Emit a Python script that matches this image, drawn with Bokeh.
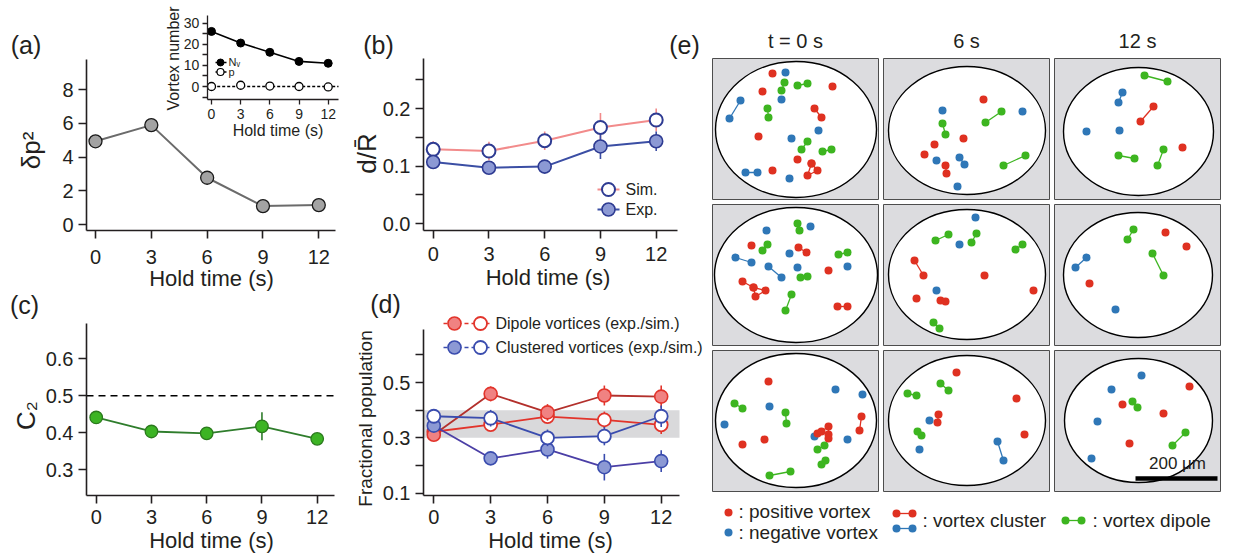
import math
from bokeh.plotting import figure
from bokeh.models import Range1d, LinearAxis, FixedTicker, PrintfTickFormatter
from bokeh.core.properties import value
from bokeh.embed import file_html
from bokeh.resources import INLINE

# ---------------------------------------------------------------- data
hold_time = [0, 3, 6, 9, 12]
tick_hold = [0, 3, 6, 9, 12]

# (a) main + inset
dp2 = [4.93, 5.89, 2.77, 1.09, 1.15]
vortex_number = [26.1, 20.6, 16.2, 11.9, 11.0]
polarization = [0.0, 0.6, 0.2, 0.0, -0.2]

# (b) d / R-bar
dR_sim = [0.129, 0.126, 0.144, 0.167, 0.180]
dR_sim_err = [0.014, 0.016, 0.016, 0.025, 0.020]
dR_exp = [0.107, 0.097, 0.099, 0.134, 0.143]
dR_exp_err = [0.008, 0.006, 0.008, 0.022, 0.017]

# (c) C2
c2 = [0.441, 0.403, 0.398, 0.417, 0.383]
c2_err = [0.005, 0.005, 0.005, 0.038, 0.005]

# (d) fractional population
dip_exp = [0.311, 0.459, 0.392, 0.453, 0.449]
dip_exp_err = [0.012, 0.027, 0.030, 0.036, 0.040]
dip_sim = [0.322, 0.348, 0.377, 0.365, 0.347]
dip_sim_err = [0.010, 0.020, 0.025, 0.030, 0.033]
clu_exp = [0.344, 0.226, 0.258, 0.194, 0.216]
clu_exp_err = [0.012, 0.015, 0.033, 0.048, 0.039]
clu_sim = [0.378, 0.371, 0.300, 0.306, 0.378]
clu_sim_err = [0.012, 0.030, 0.030, 0.033, 0.039]

# (e) vortex positions, image pixels from each frame's top-left corner (y down)
col_titles = ["t = 0 s", "6 s", "12 s"]
run1_t0 = {
    "blue": [[(73, 14)], [(69, 41)], [(28, 42), (17, 60)], [(106, 72)], [(79, 80)],
             [(33, 114), (45, 114)], [(77, 120)]],
    "green": [[(72, 24), (69, 32)], [(85, 27), (95, 25)], [(55, 50), (56, 59)],
              [(95, 83), (89, 91)], [(110, 93), (119, 91)]],
    "red": [[(60, 15)], [(50, 33)], [(120, 28)], [(102, 50), (109, 59)], [(46, 78)], [(85, 101)],
            [(99, 105), (105, 112), (95, 117), (99, 105)], [(60, 112)]],
}
run1_t6 = {
    "blue": [[(59, 52)], [(139, 53)], [(53, 102)], [(76, 99), (81, 106)], [(74, 128)]],
    "green": [[(59, 65), (62, 76)], [(102, 64), (118, 53)], [(120, 107), (142, 97)]],
    "red": [[(100, 41)], [(80, 80)], [(51, 86)], [(41, 96)], [(62, 107), (63, 115)]],
}
run1_t12 = {
    "blue": [[(68, 34), (64, 44)], [(32, 73)], [(65, 72)]],
    "green": [[(90, 17), (113, 23)], [(64, 97), (80, 100)], [(109, 91), (103, 107)]],
    "red": [[(99, 48), (86, 63)], [(128, 89)]],
}
run2_t0 = {
    "blue": [[(54, 26)], [(98, 22)], [(23, 53), (39, 58)], [(77, 49)], [(56, 62), (69, 73)],
             [(85, 63)], [(135, 62)]],
    "green": [[(85, 19), (87, 26)], [(55, 40), (50, 46)], [(126, 50), (135, 48)],
              [(88, 73), (95, 72)], [(79, 90), (73, 106)]],
    "red": [[(39, 41)], [(86, 43), (94, 48)], [(30, 77), (41, 83), (53, 86), (43, 92), (41, 83)],
            [(116, 66)], [(125, 102), (135, 102)]],
}
run2_t6 = {
    "blue": [[(92, 13)], [(76, 40)], [(53, 86)]],
    "green": [[(52, 36), (65, 30)], [(93, 29), (88, 38)], [(132, 45), (139, 40)], [(50, 118), (56, 124)]],
    "red": [[(31, 56), (40, 71)], [(101, 71)], [(150, 86)], [(33, 94)], [(57, 96), (62, 97)]],
}
run2_t12 = {
    "blue": [[(32, 53), (21, 63)], [(61, 105)]],
    "green": [[(79, 25), (73, 35)], [(98, 49), (109, 71)]],
    "red": [[(111, 28)], [(132, 42)], [(35, 79)]],
}
run3_t0 = {
    "blue": [[(123, 39)], [(150, 44)], [(57, 56)], [(12, 74)], [(102, 86)], [(135, 89)]],
    "green": [[(22, 53), (30, 58)], [(73, 62), (74, 73)], [(105, 99), (112, 95)],
              [(109, 114), (113, 110)], [(57, 125), (78, 121)]],
    "red": [[(56, 31)], [(30, 94)], [(52, 89)], [(105, 83), (109, 81), (116, 76), (116, 84), (116, 88)],
            [(149, 66), (147, 80)]],
}
run3_t6 = {
    "blue": [[(46, 70)], [(36, 99)], [(114, 91), (120, 110)]],
    "green": [[(57, 33), (65, 40)], [(24, 43), (33, 45)], [(34, 81), (38, 85)]],
    "red": [[(73, 22)], [(133, 48)], [(141, 84)], [(55, 64), (54, 72)]],
}
run3_t12 = {
    "blue": [[(87, 25)], [(57, 39)], [(43, 71)], [(37, 108)]],
    "green": [[(78, 51), (83, 57)], [(131, 82), (118, 95)]],
    "red": [[(135, 36)], [(68, 54)], [(109, 63)], [(75, 93)]],
}
frames = [[run1_t0, run1_t6, run1_t12], [run2_t0, run2_t6, run2_t12], [run3_t0, run3_t6, run3_t12]]
cloud_cx = [[83.5, 83.5, 84], [83.5, 83.5, 83.5], [83.5, 83.5, 84]]
cloud_cy = [[71, 72, 73], [70.5, 70, 70.5], [70, 70, 70]]
cloud_w = [[161, 157, 150], [163, 157, 149], [161, 157, 148]]
cloud_h = [[136, 128, 128], [135, 130, 125], [134, 130, 124]]
scale_bar_um = 200
px_per_um = 0.41
legend_e = [": positive vortex", ": negative vortex", ": vortex cluster", ": vortex dipole"]

# ---------------------------------------------------------------- canvas
W, H, OFF = 1235, 554, 0
FONT = "Liberation Sans"
INK = "#231f20"
RED, BLUE, GREEN = "#df3121", "#2f77b7", "#3db520"
VCOL = {"red": RED, "blue": BLUE, "green": GREEN}

p = figure(width=W, height=H, x_range=Range1d(OFF, OFF + W), y_range=Range1d(OFF + H, OFF),
           output_backend="svg", toolbar_location=None, min_border=0,
           x_axis_type=None, y_axis_type=None, outline_line_color=None,
           background_fill_color="white", border_fill_color="white")


def xr(v1, p1, v2, p2):
    k = (p2 - p1) / (v2 - v1)
    s = v1 - (p1 - OFF) / k
    return Range1d(start=s, end=s + W / k)


def yr(v1, p1, v2, p2):
    k = (p1 - p2) / (v2 - v1)
    e = v1 + (p1 - OFF) / k
    return Range1d(start=e - H / k, end=e)


p.extra_x_ranges = {
    "ax": xr(0, 95, 12, 318.3), "bx": xr(0, 432.7, 12, 655.7),
    "cx": xr(0, 95.7, 12, 316.7), "dx": xr(0, 433.3, 12, 660.7),
    "ix": xr(0, 211, 12, 327.7), "ex": xr(0, 712, 1, 713),
}
p.extra_y_ranges = {
    "ay": yr(0, 224, 8, 89), "by": yr(0, 223, 0.2, 108),
    "cy": yr(0.3, 469, 0.6, 358.3), "dy": yr(0.1, 492.7, 0.5, 382),
    "iy": yr(0, 86, 30, 22.7), "ey": yr(0, 58, 1, 57),
}


def xd(n, px):
    r = p.extra_x_ranges[n]
    return r.start + (px - OFF) * (r.end - r.start) / W


def yd(n, py):
    r = p.extra_y_ranges[n]
    return r.end - (py - OFF) * (r.end - r.start) / H


def axes(xn, yn, frame, yt, yminor=(), yfmt=None, fs="20px", tick=8, lw=1.6, xs=9, ys=5):
    left, right, top, bottom = frame
    xb = (xd(xn, left), xd(xn, right))
    yb = (yd(yn, bottom), yd(yn, top))
    common = dict(axis_line_width=lw, axis_line_color=INK,
                  major_tick_line_width=lw, major_tick_line_color=INK,
                  minor_tick_line_width=lw, minor_tick_line_color=INK,
                  major_tick_in=0, major_tick_out=tick, minor_tick_in=0, minor_tick_out=tick,
                  major_label_text_font=FONT, major_label_text_font_size=fs,
                  major_label_text_color=INK)
    xa = LinearAxis(x_range_name=xn, y_range_name=yn, fixed_location=yb[0], bounds=xb,
                    ticker=FixedTicker(ticks=tick_hold), major_label_standoff=xs, **common)
    ya = LinearAxis(x_range_name=xn, y_range_name=yn, fixed_location=xb[0], bounds=yb,
                    ticker=FixedTicker(ticks=yt, minor_ticks=list(yminor)),
                    major_label_standoff=ys, **common)
    if yfmt:
        ya.formatter = PrintfTickFormatter(format=yfmt)
    p.add_layout(xa, "below")
    p.add_layout(ya, "left")
    return xb, yb


def txt(x, y, s, size, align="center", angle=0.0, color=INK, **kw):
    p.text(x=[x], y=[y], text=[s], text_font=value(FONT), text_font_size=value(size),
           text_align=align, text_baseline="middle", angle=angle, text_color=color, **kw)


def errbars(xn, yn, ys, es, color, lw=1.6):
    p.segment(x0=hold_time, x1=hold_time, y0=[v - e for v, e in zip(ys, es)],
              y1=[v + e for v, e in zip(ys, es)], line_color=color, line_width=lw,
              x_range_name=xn, y_range_name=yn)


# ---------------------------------------------------------------- (a)
axes("ax", "ay", (86, 335, 59, 230), [0, 2, 4, 6, 8], xs=11)
kw = dict(x_range_name="ax", y_range_name="ay")
p.line(hold_time, dp2, line_color="#6b6b6b", line_width=2, **kw)
p.scatter(hold_time, dp2, marker="circle", size=13, fill_color="#a3a3a3", line_color="#1a1a1a",
          line_width=1.3, **kw)

# inset
ixb, iyb = axes("ix", "iy", (206.7, 338, 15, 99), [0, 10, 20, 30], yminor=(-5, 5, 15, 25),
                fs="14px", tick=5, lw=1.3, xs=4, ys=3)
kw = dict(x_range_name="ix", y_range_name="iy")
p.line([ixb[0], ixb[1]], [0, 0], line_color="black", line_width=1.3, line_dash="3 2", **kw)
p.line(hold_time, vortex_number, line_color="black", line_width=1.6, **kw)
p.scatter(hold_time, vortex_number, marker="circle", size=8, fill_color="black", line_color="black", **kw)
p.scatter(hold_time, polarization, marker="circle", size=8, fill_color="white", line_color="black",
          line_width=1.3, **kw)
p.line([215, 226], [62, 62], line_color="black", line_width=1.3)
p.scatter([220], [62], marker="circle", size=7, fill_color="black", line_color="black")
p.line([215, 226], [71.5, 71.5], line_color="black", line_width=1.3)
p.scatter([220], [71.5], marker="circle", size=7, fill_color="white", line_color="black", line_width=1.2)
txt(228, 61, "Nᵥ", "11px", align="left")
txt(228, 71, "p", "11px", align="left")
txt(173, 58, "Vortex number", "16px", angle=math.pi / 2)
txt(277.5, 130, "Hold time (s)", "16px")

txt(25.5, 44, "(a)", "25px")
txt(30, 150, "δp²", "26px", angle=math.pi / 2)
txt(211, 278, "Hold time (s)", "22px")

# ---------------------------------------------------------------- (b)
axes("bx", "by", (423, 677, 58, 230), [0, 0.1, 0.2], yminor=(0.05, 0.15, 0.25), yfmt="%.1f", xs=8)
kw = dict(x_range_name="bx", y_range_name="by")
PINK, NAVY, LAV = "#f28b8b", "#2e3b92", "#8c99d4"
errbars("bx", "by", dR_sim, dR_sim_err, PINK)
p.line(hold_time, dR_sim, line_color=PINK, line_width=2, **kw)
errbars("bx", "by", dR_exp, dR_exp_err, "#3b4ea4")
p.line(hold_time, dR_exp, line_color="#3b4ea4", line_width=2, **kw)
p.scatter(hold_time, dR_sim, marker="circle", size=13, fill_color="white", line_color=NAVY,
          line_width=2, **kw)
p.scatter(hold_time, dR_exp, marker="circle", size=13, fill_color=LAV, line_color=NAVY,
          line_width=1.6, **kw)
p.line([597, 619], [189, 189], line_color=PINK, line_width=2)
p.scatter([608], [189], marker="circle", size=13, fill_color="white", line_color=NAVY, line_width=2)
p.line([597, 619], [209, 209], line_color="#3b4ea4", line_width=2)
p.scatter([608], [209], marker="circle", size=13, fill_color=LAV, line_color=NAVY, line_width=1.6)
txt(625, 189, "Sim.", "16px", align="left")
txt(625, 209, "Exp.", "16px", align="left")
txt(378, 44, "(b)", "25px")
txt(366, 153, "d/R̄", "26px", angle=math.pi / 2)
txt(547.5, 277, "Hold time (s)", "22px")

# ---------------------------------------------------------------- (c)
cxb, cyb = axes("cx", "cy", (86, 334, 323, 495), [0.3, 0.4, 0.5, 0.6], yfmt="%.1f", xs=6)
kw = dict(x_range_name="cx", y_range_name="cy")
p.line([cxb[0], cxb[1]], [0.5, 0.5], line_color="black", line_width=1.6, line_dash="7 5", **kw)
errbars("cx", "cy", c2, c2_err, "#2f7d2c")
p.line(hold_time, c2, line_color="#2f7d2c", line_width=1.8, **kw)
p.scatter(hold_time, c2, marker="circle", size=12.5, fill_color="#3cb424", line_color="#2b7a1d",
          line_width=1.3, **kw)
txt(24, 304, "(c)", "25px")
txt(25, 415, "C₂", "26px", angle=math.pi / 2)
txt(211, 540, "Hold time (s)", "22px")

# ---------------------------------------------------------------- (d)
dxb, dyb = axes("dx", "dy", (423, 679, 329, 495), [0.1, 0.3, 0.5], yminor=(0.2, 0.4, 0.6), yfmt="%.1f", xs=6)
kw = dict(x_range_name="dx", y_range_name="dy")
p.quad(left=[dxb[0]], right=[dxb[1]], bottom=[0.3], top=[0.4], fill_color="#d9d9db",
       line_color=None, **kw)
DRED, RRED, SALMON = "#b3302c", "#e2342b", "#f08282"
CPUR, CBLU = "#4b3fa6", "#3a4cae"
errbars("dx", "dy", dip_sim, dip_sim_err, RRED)
p.line(hold_time, dip_sim, line_color=RRED, line_width=1.8, **kw)
p.scatter(hold_time, dip_sim, marker="circle", size=13, fill_color="white", line_color=RRED, line_width=1.8, **kw)
errbars("dx", "dy", dip_exp, dip_exp_err, RRED)
p.line(hold_time, dip_exp, line_color=DRED, line_width=1.8, **kw)
p.scatter(hold_time, dip_exp, marker="circle", size=13, fill_color=SALMON, line_color=RRED, line_width=1.6, **kw)
errbars("dx", "dy", clu_exp, clu_exp_err, CBLU)
p.line(hold_time, clu_exp, line_color=CPUR, line_width=1.8, **kw)
p.scatter(hold_time, clu_exp, marker="circle", size=13, fill_color=LAV, line_color=CBLU, line_width=1.6, **kw)
errbars("dx", "dy", clu_sim, clu_sim_err, CBLU)
p.line(hold_time, clu_sim, line_color=CBLU, line_width=1.8, **kw)
p.scatter(hold_time, clu_sim, marker="circle", size=13, fill_color="white", line_color=CBLU, line_width=1.8, **kw)
for yy, lc, fc in [(323, RRED, SALMON), (347, CBLU, LAV)]:
    p.line([443, 491], [yy, yy], line_color=lc, line_width=1.6, line_dash="4 3")
    p.scatter([454], [yy], marker="circle", size=13, fill_color=fc, line_color=lc, line_width=1.6)
    p.scatter([480], [yy], marker="circle", size=13, fill_color="white", line_color=lc, line_width=1.8)
txt(495, 323, "Dipole vortices (exp./sim.)", "16px", align="left")
txt(495, 347, "Clustered vortices (exp./sim.)", "16px", align="left")
txt(385, 303, "(d)", "25px")
txt(365, 418, "Fractional population", "19px", angle=math.pi / 2)
txt(550, 540, "Hold time (s)", "22px")

# ---------------------------------------------------------------- (e)
kw = dict(x_range_name="ex", y_range_name="ey")
COLS, ROWS, BW, BH = 171, 146, 166, 141
bx, by = [], []
for r in range(3):
    for c in range(3):
        bx.append(c * COLS + BW / 2)
        by.append(-(r * ROWS + BH / 2))
p.rect(bx, by, width=BW, height=BH, fill_color="#dcdcdf", line_color="#4d4d4d", line_width=1, **kw)
ex, ey, ew, eh = [], [], [], []
for r in range(3):
    for c in range(3):
        ex.append(c * COLS + cloud_cx[r][c])
        ey.append(-(r * ROWS + cloud_cy[r][c]))
        ew.append(cloud_w[r][c])
        eh.append(cloud_h[r][c])
p.ellipse(ex, ey, width=ew, height=eh, fill_color="white", line_color="black", line_width=1.4, **kw)

for key in ["blue", "green", "red"]:
    lxs, lys, px_, py_ = [], [], [], []
    for r in range(3):
        for c in range(3):
            for chain in frames[r][c][key]:
                xs = [c * COLS + q[0] for q in chain]
                ys = [-(r * ROWS + q[1]) for q in chain]
                px_ += xs
                py_ += ys
                if len(chain) > 1:
                    lxs.append(xs)
                    lys.append(ys)
    p.multi_line(lxs, lys, line_color=VCOL[key], line_width=1.3, **kw)
    p.scatter(px_, py_, marker="circle", size=8, fill_color=VCOL[key], line_color=None, **kw)

for c, t in enumerate(col_titles):
    txt(c * COLS + BW / 2, 18, t, "20px", **kw)

# scale bar in the last frame
bar_len = scale_bar_um * px_per_um
bar_right = 2 * COLS + 163
bar_y = -(2 * ROWS + 128)
p.line([bar_right - bar_len, bar_right], [bar_y, bar_y], line_color="black", line_width=4.5, **kw)
txt(bar_right - bar_len / 2 + 1, bar_y + 15, "200 μm", "17px", **kw)

# legend of (e)
p.scatter([16], [-454], marker="circle", size=8, fill_color=RED, line_color=None, **kw)
p.scatter([16], [-474], marker="circle", size=8, fill_color=BLUE, line_color=None, **kw)
txt(26, -453, legend_e[0], "19px", align="left", **kw)
txt(26, -474, legend_e[1], "19px", align="left", **kw)
for yy, col in [(-455, RED), (-470, BLUE)]:
    p.line([184, 200], [yy, yy], line_color=col, line_width=1.3, **kw)
    p.scatter([184, 200], [yy, yy], marker="circle", size=8, fill_color=col, line_color=None, **kw)
txt(210, -462, legend_e[2], "19px", align="left", **kw)
p.line([353, 369], [-462, -462], line_color=GREEN, line_width=1.3, **kw)
p.scatter([353, 369], [-462, -462], marker="circle", size=8, fill_color=GREEN, line_color=None, **kw)
txt(380, -462, legend_e[3], "19px", align="left", **kw)
txt(684, 44, "(e)", "25px")

open("out.html", "w").write(file_html(p, INLINE))
